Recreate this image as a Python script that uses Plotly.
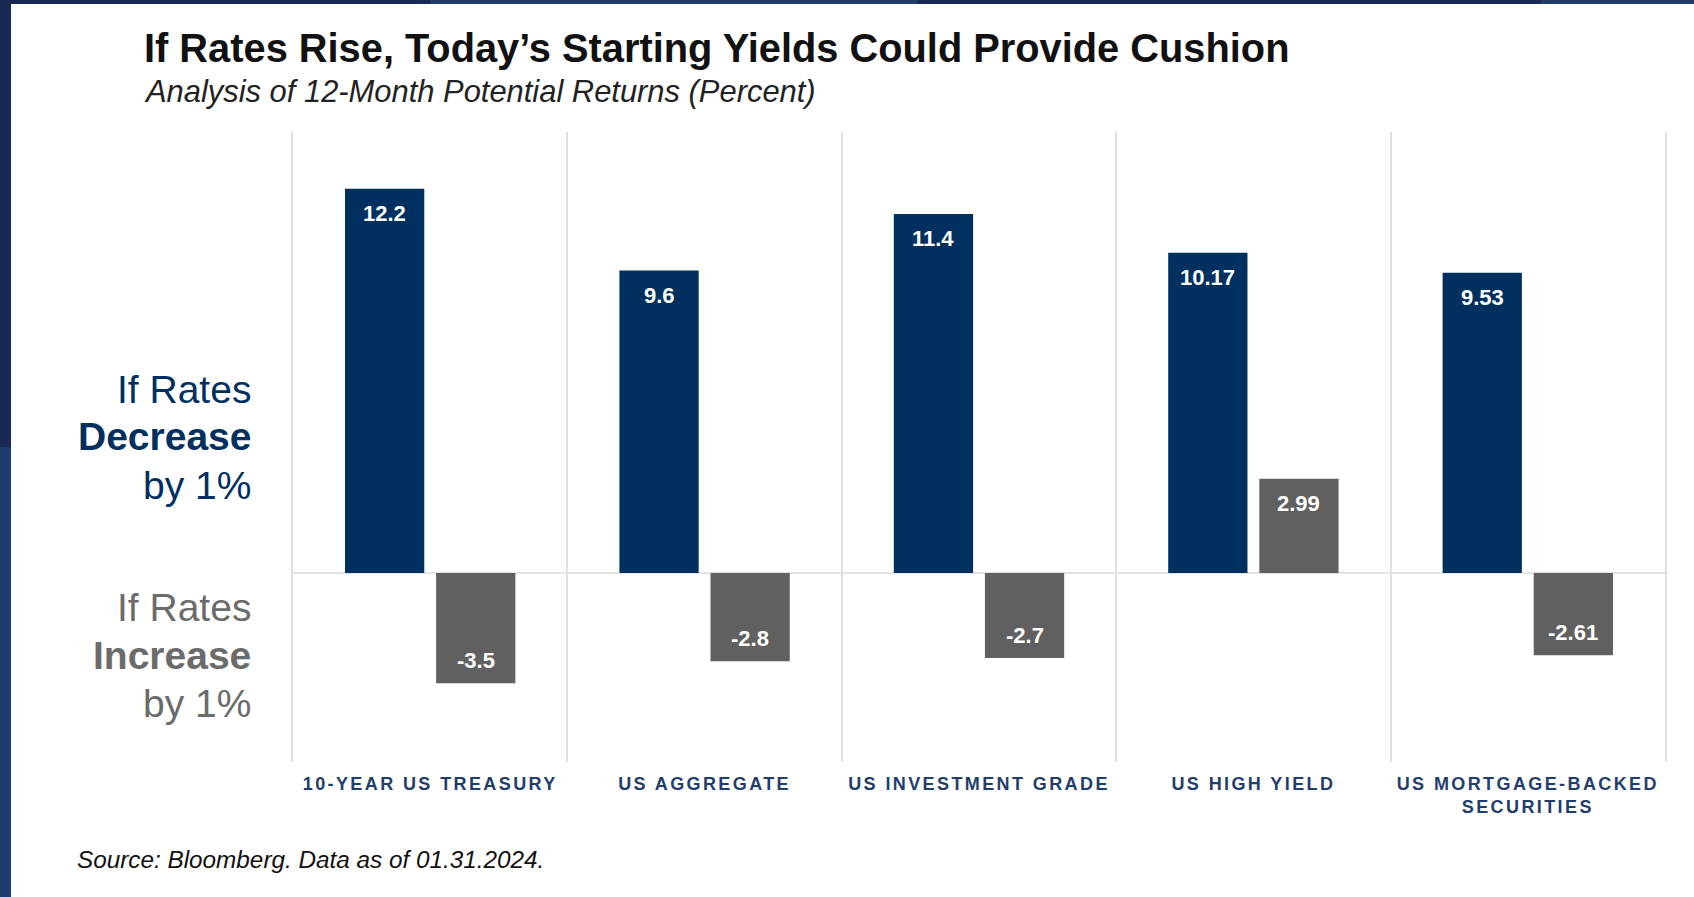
import plotly.graph_objects as go

# ---- data -------------------------------------------------------------
categories = ["10-Year US Treasury", "US Aggregate", "US Investment Grade",
              "US High Yield", "US Mortgage-Backed Securities"]
tick_labels = ["10-YEAR US TREASURY", "US AGGREGATE", "US INVESTMENT GRADE",
               "US HIGH YIELD", "US MORTGAGE-BACKED<br>SECURITIES"]
rates_decrease = [12.2, 9.6, 11.4, 10.17, 9.53]
rates_increase = [-3.5, -2.8, -2.7, 2.99, -2.61]

title_text = "If Rates Rise, Today\u2019s Starting Yields Could Provide Cushion"
subtitle_text = "Analysis of 12-Month Potential Returns (Percent)"
source_text = "Source: Bloomberg. Data as of 01.31.2024."

# ---- styling ----------------------------------------------------------
NAVY = "#00305f"
GRAY = "#606060"
GRID = "#e0e0e0"
FONT = "Liberation Sans, Arial, sans-serif"
W, H = 1694, 897
M = dict(l=293, r=29, t=132, b=135)
BARGAP, GROUPGAP = 0.336, 0.13

plot_w = W - M["l"] - M["r"]
plot_h = H - M["t"] - M["b"]


def px_x(px):
    return (px - M["l"]) / plot_w


def px_y(py):
    return (H - M["b"] - py) / plot_h


fig = go.Figure()
fig.add_trace(go.Bar(x=categories, y=rates_decrease, name="If Rates Decrease by 1%",
                     marker=dict(color=NAVY, line=dict(width=0)), hoverinfo="skip"))
fig.add_trace(go.Bar(x=categories, y=rates_increase, name="If Rates Increase by 1%",
                     marker=dict(color=GRAY, line=dict(width=0)), hoverinfo="skip"))

# value labels sitting inside the end of each bar
cat_w = plot_w / len(categories)
half_slot = cat_w * (1 - BARGAP) / 4
annotations = []
for series, side in ((rates_decrease, -1), (rates_increase, 1)):
    for cat, v in zip(categories, series):
        annotations.append(dict(
            x=cat, y=v, xref="x", yref="y", text=f"<b>{v:g}</b>",
            showarrow=False, xshift=side * half_slot,
            yshift=-25 if v > 0 else 23, xanchor="center", yanchor="middle",
            font=dict(family=FONT, size=22, color="white")))

# title block and footnote
annotations += [
    dict(x=px_x(142), y=px_y(47.5), xref="paper", yref="paper", xanchor="left",
         yanchor="middle", showarrow=False, text=f"<b>{title_text}</b>",
         font=dict(family=FONT, size=39.8, color="#111111")),
    dict(x=px_x(142), y=px_y(91), xref="paper", yref="paper", xanchor="left",
         yanchor="middle", showarrow=False, text=f"<i>{subtitle_text}</i>",
         font=dict(family=FONT, size=30.9, color="#222222")),
    dict(x=px_x(75), y=px_y(860), xref="paper", yref="paper", xanchor="left",
         yanchor="middle", showarrow=False, text=f"<i>{source_text}</i>",
         font=dict(family=FONT, size=24.3, color="#111111")),
]

# scenario labels on the left
side_labels = [
    ("If Rates", 389, NAVY), ("<b>Decrease</b>", 437, NAVY), ("by 1%", 485, NAVY),
    ("If Rates", 607, "#6b6b6b"), ("<b>Increase</b>", 655, "#6b6b6b"), ("by 1%", 703, "#6b6b6b"),
]
for txt, py, col in side_labels:
    annotations.append(dict(x=px_x(253), y=px_y(py), xref="paper", yref="paper",
                            xanchor="right", yanchor="middle", showarrow=False,
                            text=txt, font=dict(family=FONT, size=39, color=col)))

# slide frame strips (left and top edges)
DARK, LIGHT = "#192955", "#1e3c6c"
shapes = []
for x0, x1, y0, y1, col in [
    (0, 11, 0, 447, DARK), (0, 11, 447, H, LIGHT),
    (0, 430, 0, 4, DARK), (430, 917, 0, 4, LIGHT),
    (917, 1541, 0, 4, DARK), (1541, W, 0, 4, LIGHT),
]:
    shapes.append(dict(type="rect", xref="paper", yref="paper",
                       x0=px_x(x0), x1=px_x(x1), y0=px_y(y1), y1=px_y(y0),
                       fillcolor=col, line=dict(width=0), layer="above"))

fig.update_layout(
    width=W, height=H, margin=M,
    paper_bgcolor="white", plot_bgcolor="white",
    barmode="group", bargap=BARGAP, bargroupgap=GROUPGAP,
    showlegend=False,
    annotations=annotations, shapes=shapes,
    xaxis=dict(type="category", tickvals=categories, ticktext=tick_labels,
               tickson="boundaries", ticks="", showgrid=True, gridcolor=GRID,
               gridwidth=1.5, showline=False, zeroline=False,
               ticklabelstandoff=9,
               tickfont=dict(family=FONT, size=18, color="#1f3d6d", weight="bold")),
    yaxis=dict(range=[-6, 14], showgrid=False, showticklabels=False, ticks="",
               zeroline=True, zerolinecolor="#e4e4e4", zerolinewidth=2,
               showline=True, mirror=True, linecolor=GRID, linewidth=1.5),
)

fig.write_html(
    "out.html",
    config={"displayModeBar": False},
    post_script="document.querySelectorAll('.xtick text').forEach(function(t){t.style.letterSpacing='2.4px';});",
)
